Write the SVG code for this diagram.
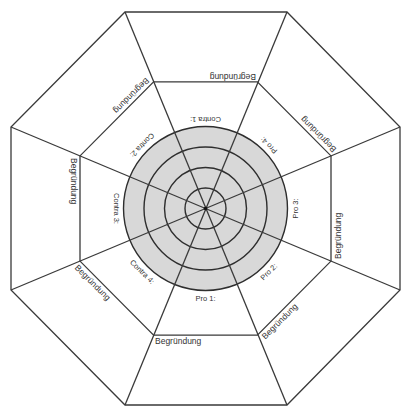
<svg xmlns="http://www.w3.org/2000/svg" width="403" height="409" viewBox="0 0 403 409">
<style>
.ln{fill:none;stroke:#3a3a3a;stroke-width:1.3}
.ring{fill:none;stroke:#2e2e2e;stroke-width:1.4}
.lbl{font-family:"Liberation Sans",Arial,sans-serif;font-size:8.5px;fill:#333}
.in{font-family:"Liberation Sans",Arial,sans-serif;font-size:7.5px;fill:#333;text-anchor:middle}
</style>
<rect width="403" height="409" fill="#fff"/>
<g id="outer-octagon"><polygon class="ln" points="125,12 287,12 400,127 400,290 287,405 125,405 11,290 11,127"/></g>
<g id="inner-octagon"><polygon class="ln" points="153.6,81.8 257.4,81.8 331,155.9 331,261.1 257.4,335.2 153.6,335.2 80,261.1 80,155.9"/></g>
<g id="wheel">
<circle cx="205.5" cy="208.5" r="82" fill="#d8d8d8" stroke="#2e2e2e" stroke-width="1.4"/>
<circle class="ring" cx="205.5" cy="208.5" r="61.5"/>
<circle class="ring" cx="205.5" cy="208.5" r="41"/>
<circle class="ring" cx="205.5" cy="208.5" r="20.5"/>
</g>
<g id="connectors">
<line class="ln" x1="125" y1="12" x2="287" y2="405"/>
<line class="ln" x1="287" y1="12" x2="125" y2="405"/>
<line class="ln" x1="400" y1="127" x2="11" y2="290"/>
<line class="ln" x1="400" y1="290" x2="11" y2="127"/>
</g>
<circle cx="205.5" cy="208.5" r="1.8" fill="#111"/>
<g id="outer-labels">
<text class="lbl" x="155" y="343.5">Begründung</text>
<text class="lbl" x="155" y="343.5" transform="rotate(45 205.5 208.5)">Begründung</text>
<text class="lbl" x="155" y="343.5" transform="rotate(90 205.5 208.5)">Begründung</text>
<text class="lbl" x="155" y="343.5" transform="rotate(135 205.5 208.5)">Begründung</text>
<text class="lbl" x="155" y="343.5" transform="rotate(180 205.5 208.5)">Begründung</text>
<text class="lbl" x="155" y="343.5" transform="rotate(225 205.5 208.5)">Begründung</text>
<text class="lbl" x="155" y="343.5" transform="rotate(270 205.5 208.5)">Begründung</text>
<text class="lbl" x="155" y="343.5" transform="rotate(315 205.5 208.5)">Begründung</text>
</g>
<g id="inner-labels">
<text class="in" x="205.5" y="300.5">Pro 1:</text>
<text class="in" x="205.5" y="300.5" transform="rotate(-45 205.5 208.5)">Pro 2:</text>
<text class="in" x="205.5" y="300.5" transform="rotate(-90 205.5 208.5)">Pro 3:</text>
<text class="in" x="205.5" y="300.5" transform="rotate(-135 205.5 208.5)">Pro 4:</text>
<text class="in" x="205.5" y="300.5" transform="rotate(180 205.5 208.5)">Contra 1:</text>
<text class="in" x="205.5" y="300.5" transform="rotate(135 205.5 208.5)">Contra 2:</text>
<text class="in" x="205.5" y="300.5" transform="rotate(90 205.5 208.5)">Contra 3:</text>
<text class="in" x="205.5" y="300.5" transform="rotate(45 205.5 208.5)">Contra 4:</text>
</g>
</svg>
